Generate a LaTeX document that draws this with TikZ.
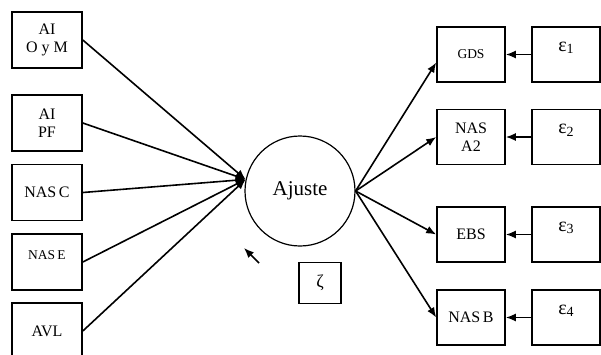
\documentclass[tikz,border=0pt]{standalone}
\usepackage{fontspec}
\setmainfont{Liberation Serif}
\usepackage{tikz}
\usetikzlibrary{arrows.meta,positioning,shapes}

\begin{document}
\begin{tikzpicture}[x=1pt, y=-1pt, line width=1.6pt,
                    >={Latex[length=10pt,width=8pt]}]
\useasboundingbox (0,0) rectangle (601,354);
\tikzstyle{every node}=[rectangle, draw, inner sep=1pt, align=center,
                        font=\fontsize{16}{18}\selectfont]
\tikzstyle{lbox}=[minimum width=70pt, minimum height=56pt]
\tikzstyle{rbox}=[minimum width=68pt, minimum height=55pt]
\tikzstyle{small}=[font=\fontsize{13.5}{15}\selectfont]
\tikzstyle{eps}=[rbox, font=\fontsize{20}{20}\selectfont, text height=8pt, text depth=15pt]
\newcommand{\epsub}[1]{ε\raisebox{-2.5pt}{\fontsize{14}{14}\selectfont #1}}
% left side
\node[lbox] (O) at (47,40) {AI\\O y M};
\node[lbox] (P) at (47,123) {AI\\PF};
\node[lbox] (C) at (47,192.5) {NAS\,C};
\node[lbox, small, text height=9pt, text depth=14pt] (E) at (47,262) {NAS\,E};
\node[lbox] (V) at (47,331) {AVL};
% latent variable
\node[circle, line width=1.2pt, minimum size=110pt, inner sep=0pt,
      font=\fontsize{21}{24}\selectfont] (aj) at (300,191) {Ajuste};
\node[minimum width=42pt, minimum height=41pt,
      font=\fontsize{18}{18}\selectfont] (z) at (320,283) {ζ};
\coordinate (zt) at (259,263);
\coordinate (zh) at (244,248);
% right side
\node[rbox, small] (G) at (471,54.5) {GDS};
\node[rbox] (N) at (471,137) {NAS\\A2};
\node[rbox] (EB) at (471,234.5) {EBS};
\node[rbox] (NB) at (471,317.5) {NAS\,B};
\node[eps] (e1) at (566,54.5) {\epsub{1}};
\node[eps] (e2) at (566,137) {\epsub{2}};
\node[eps] (e3) at (566,234.5) {\epsub{3}};
\node[eps] (e4) at (566,317.5) {\epsub{4}};

\foreach \i in {O,P,C,E,V}{\draw[->] (\i.east) -- (aj.168);}
\draw[->] (aj.east) -- ([yshift=-8pt]G.west);
\foreach \j in {N,EB,NB}{\draw[->] (aj.east) -- (\j.west);}
\foreach \i/\j in {e1/G,e2/N,e3/EB,e4/NB}{\draw[->] (\i) -- (\j);}
\draw[->] (zt) -- (zh);

\end{tikzpicture}
\end{document}
